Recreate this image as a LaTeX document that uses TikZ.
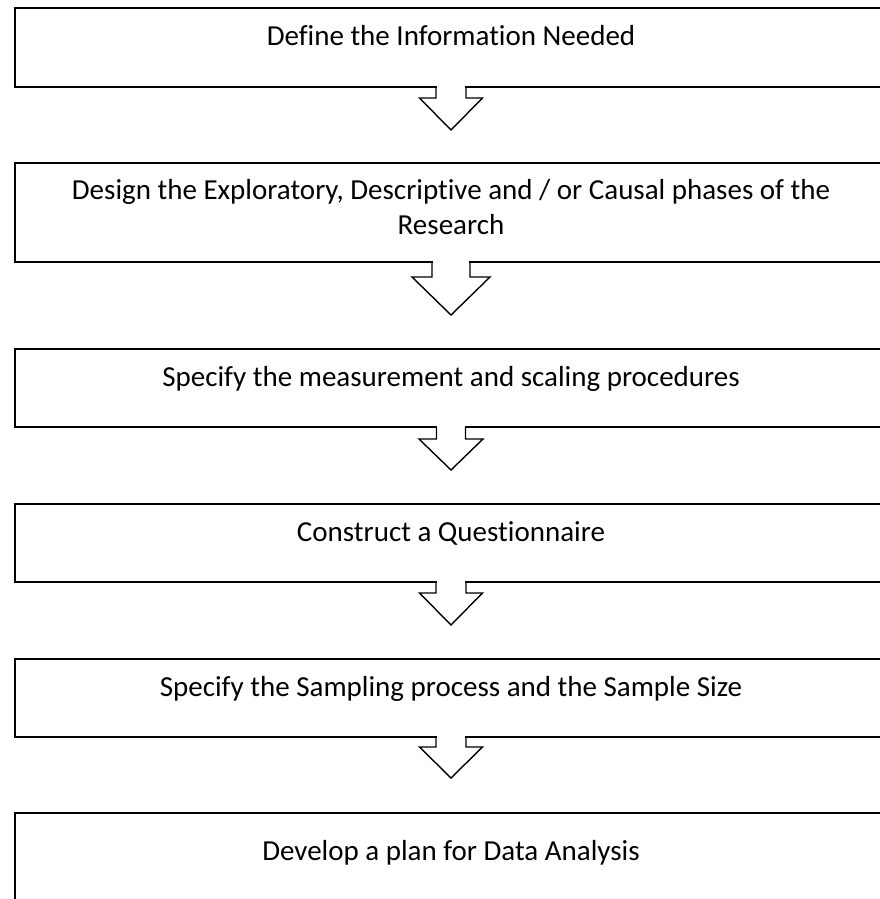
\documentclass[tikz,border=0pt]{standalone}
\usepackage{fontspec}
\setmainfont{Carlito}[Ligatures=NoCommon]
\usetikzlibrary{positioning, calc}
\tikzset{
  stepbox/.style={rectangle, draw=black, line width=1.8pt, minimum width=872pt,
    inner sep=0pt, outer sep=0pt},
  steptext/.style={font=\fontsize{29}{35}\selectfont, align=center, inner sep=0pt},
  flowline/.style={draw=black, line width=1.4pt, line join=miter}
}
% open block arrow hanging from a box: start, stem half width, stem length, head half width, head length
\newcommand{\blockarrow}[5]{%
  \fill[white] ([xshift=-#2+0.7pt, yshift=2pt]#1) rectangle ([xshift=#2-0.7pt, yshift=-2pt]#1);
  \draw[flowline] ([xshift=-#2]#1) -- ++(0,-#3) -- ++(#2-#4,0) -- ([yshift=-#3-#5]#1)
    -- ([xshift=#4, yshift=-#3]#1) -- ++(#2-#4,0) -- ([xshift=#2]#1);
}

\begin{document}
\begin{tikzpicture}
  \useasboundingbox (0,0) rectangle (880pt,-899pt);

  % Boxes
  \node[stepbox, minimum height=79pt] (s1) at (451pt,-47.5pt) {};
  \node[stepbox, minimum height=99pt, below=76pt of s1] (s2) {};
  \node[stepbox, minimum height=78pt, below=87pt of s2] (s3) {};
  \node[stepbox, minimum height=78pt, below=77pt of s3] (s4) {};
  \node[stepbox, minimum height=78pt, below=77pt of s4] (s5) {};
  \node[stepbox, minimum height=140pt, below=76pt of s5] (s6) {};

  % Texts
  \node[steptext, below=17pt of s1.north] (t1) {Define the Information Needed};
  \node[steptext, below=16pt of s2.north] (t2) {Design the Exploratory, Descriptive and / or Causal phases of the\\ Research};
  \node[steptext, below=17pt of s3.north] (t3) {Specify the measurement and scaling procedures};
  \node[steptext, below=17pt of s4.north] (t4) {Construct a Questionnaire};
  \node[steptext, below=17pt of s5.north] (t5) {Specify the Sampling process and the Sample Size};
  \node[steptext, below=27pt of s6.north] (t6) {Develop a plan for Data Analysis};

  % Arrows
  \blockarrow{s1.south}{15pt}{11pt}{31.5pt}{32pt}
  \blockarrow{s2.south}{19pt}{15pt}{39pt}{38pt}
  \blockarrow{s3.south}{14.5pt}{12pt}{32pt}{31pt}
  \blockarrow{s4.south}{15pt}{11pt}{31.5pt}{32pt}
  \blockarrow{s5.south}{15pt}{10pt}{31.5pt}{31pt}
\end{tikzpicture}
\end{document}
